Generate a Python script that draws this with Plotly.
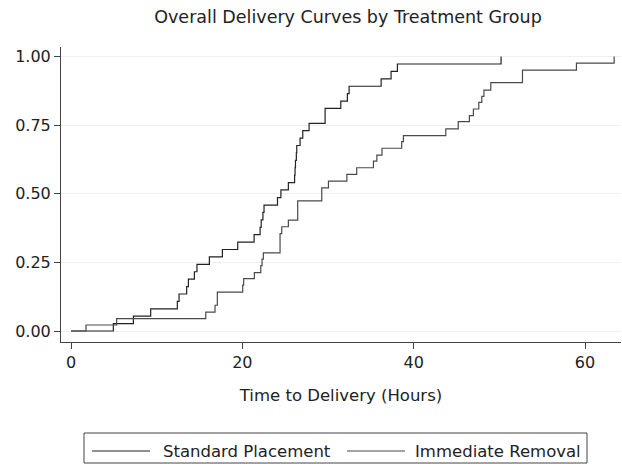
import plotly.graph_objects as go

# Standard Placement: event times (hours) and cumulative proportion delivered after each step
std_time = [0, 4.94, 7.28, 9.30, 12.41, 12.61, 13.5, 13.7, 14.4, 14.7, 16.15, 17.67, 19.46,
            21.37, 22.07, 22.2, 22.4, 22.53, 24.1, 24.5, 25.37, 26.1, 26.15, 26.2, 26.3,
            26.35, 26.74, 27.05, 27.79, 29.66, 31.49, 32.26, 32.46, 36.2, 37.36, 38.1, 50.2]
std_prop = [0.0, 0.027, 0.054, 0.081, 0.108, 0.135, 0.162, 0.189, 0.216, 0.243, 0.270, 0.297,
            0.324, 0.351, 0.378, 0.405, 0.432, 0.459, 0.486, 0.514, 0.541, 0.568, 0.595,
            0.622, 0.649, 0.676, 0.703, 0.730, 0.757, 0.811, 0.838, 0.865, 0.892, 0.919,
            0.946, 0.973, 1.0]

# Immediate Removal
imm_time = [0, 1.75, 5.33, 15.73, 16.81, 17.08, 20.04, 20.15, 21.4, 22.15, 22.3, 22.45, 24.4,
            24.6, 25.37, 26.46, 29.27, 30.05, 32.2, 33.35, 35.3, 35.7, 36.3, 38.6, 38.8,
            43.75, 45.2, 46.5, 46.97, 47.6, 47.95, 48.2, 49.0, 52.7, 59.0, 63.4]
imm_prop = [0.0, 0.022, 0.045, 0.069, 0.094, 0.142, 0.167, 0.191, 0.213, 0.238, 0.262, 0.285,
            0.355, 0.380, 0.404, 0.474, 0.522, 0.546, 0.571, 0.595, 0.619, 0.641, 0.666,
            0.690, 0.712, 0.737, 0.763, 0.785, 0.809, 0.833, 0.855, 0.878, 0.905, 0.951,
            0.976, 1.0]

series_names = ["Standard Placement", "Immediate Removal"]
series_colors = ["#222222", "#4a4a4a"]

x_ticks = [0, 20, 40, 60]
y_ticks = [0, 0.25, 0.5, 0.75, 1.0]
y_tick_labels = ["0.00", "0.25", "0.50", "0.75", "1.00"]

FONT = "DejaVu Sans, Verdana, sans-serif"
W, H = 622, 464
ML, MR, MT, MB = 61, 1, 47, 122
PW, PH = W - ML - MR, H - MT - MB


def px_to_paper_x(px):
    return (px - ML) / PW


def px_to_paper_y(py):
    return (H - MB - py) / PH


fig = go.Figure()
fig.add_trace(go.Scatter(x=std_time, y=std_prop, mode="lines", line_shape="hv",
                         name=series_names[0],
                         line=dict(color=series_colors[0], width=1.2)))
fig.add_trace(go.Scatter(x=imm_time, y=imm_prop, mode="lines", line_shape="hv",
                         name=series_names[1],
                         line=dict(color=series_colors[1], width=1.2)))

# hand-drawn legend (frame, line samples, labels) to match the reference layout
legend_y = px_to_paper_y(451)
fig.add_shape(type="rect", xref="paper", yref="paper",
              x0=px_to_paper_x(84), x1=px_to_paper_x(587),
              y0=px_to_paper_y(433), y1=px_to_paper_y(463),
              line=dict(color="#444444", width=1), fillcolor="rgba(0,0,0,0)", layer="above")
sample_spans = [(92, 150, 161), (347, 405, 413)]
for (s0, s1, tx), name, col in zip(sample_spans, series_names, series_colors):
    fig.add_shape(type="line", xref="paper", yref="paper",
                  x0=px_to_paper_x(s0), x1=px_to_paper_x(s1), y0=legend_y, y1=legend_y,
                  line=dict(color=col, width=1.2), layer="above")
    fig.add_annotation(text=name, xref="paper", yref="paper",
                       x=px_to_paper_x(tx), y=legend_y, xanchor="left", yanchor="middle",
                       showarrow=False, font=dict(size=16.5, color="#222222"))

fig.update_layout(
    width=W, height=H,
    margin=dict(l=ML, r=MR, t=MT, b=MB, autoexpand=False),
    paper_bgcolor="white", plot_bgcolor="white",
    font=dict(family=FONT, size=16, color="#222222"),
    title=dict(text="Overall Delivery Curves by Treatment Group",
               x=348 / W, xref="container", xanchor="center",
               y=1 - 17 / H, yref="container", yanchor="middle",
               font=dict(size=17.5, color="#222222")),
    xaxis=dict(range=[-1.17, 64.2], tickvals=x_ticks, showgrid=False, zeroline=False,
               showline=True, linecolor="#444444", linewidth=1,
               ticks="outside", ticklen=6, tickcolor="#444444", automargin=False,
               title=dict(text="Time to Delivery (Hours)", standoff=18,
                          font=dict(size=16.5)),
               tickfont=dict(size=16)),
    yaxis=dict(range=[-0.04, 1.035], tickvals=y_ticks, ticktext=y_tick_labels,
               showgrid=True, gridcolor="#efefef", gridwidth=1, zeroline=False,
               showline=True, linecolor="#444444", linewidth=1,
               ticks="outside", ticklen=6, tickcolor="#444444", automargin=False,
               tickfont=dict(size=16)),
    showlegend=False,
)

fig.write_html("out.html", config={"displayModeBar": False},
               post_script="document.body.style.margin='0';document.body.style.overflow='hidden';")
